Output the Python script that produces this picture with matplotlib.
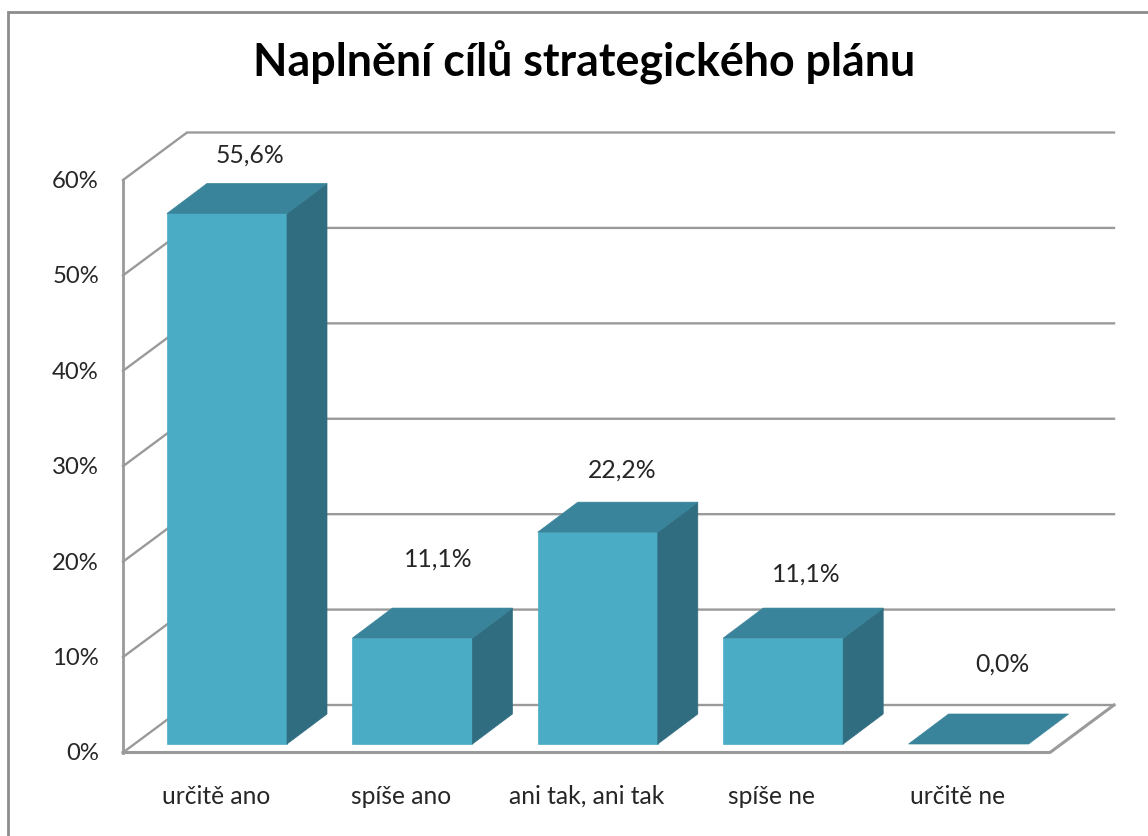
import numpy as np
import matplotlib
matplotlib.use('Agg')
import matplotlib.pyplot as plt

categories = ['určitě ano', 'spíše ano', 'ani tak, ani tak', 'spíše ne', 'určitě ne']
values = [55.6, 11.1, 22.2, 11.1, 0.0]
value_labels = ['55,6%', '11,1%', '22,2%', '11,1%', '0,0%']
yticks = [0, 10, 20, 30, 40, 50, 60]
ytick_labels = ['0%', '10%', '20%', '30%', '40%', '50%', '60%']
title = 'Naplnění cílů strategického plánu'

W, H = 1148, 836
plt.rcParams['font.family'] = ['Lato', 'DejaVu Sans']

# front plane of the chart in pixels
left, right, bottom, top = 123, 1050, 752.5, 180
PXX = (right - left) / len(categories)
PXY = (bottom - top) / 60.0
# depth of the floor and of a bar, in data units
floor_dx = 64 / PXX
floor_dy = 47.5 / PXY
bar_w = 120 / PXX
bar_dx = 40 / PXX
bar_dy = 30 / PXY
off_x = (167 - left - (PXX - 120) / 2) / PXX
off_y = 8.5 / PXY
# label shift from the front centre of the bar and from the back of its top, pixels
label_dx = [23, 26, 24, 23, 34]
label_dy = [28, 49, 32, 34, 50]

C_FRONT = '#4bacc6'
C_TOP = '#39849a'
C_SIDE = '#306d80'
C_GRID = '#9a9a9a'
C_TEXT = '#262626'

fig = plt.figure(figsize=(W / 100, H / 100), dpi=100)
ax = fig.add_axes([left / W, 1 - bottom / H, (right - left) / W, (bottom - top) / H])
ax.set_xlim(0, len(categories))
ax.set_ylim(0, 60)
ax.axis('off')

# outer frame of the chart, only left and top are in the picture
fig.add_artist(plt.Line2D([7.5 / W, 7.5 / W, 1], [0, 1 - 11.5 / H, 1 - 11.5 / H], transform=fig.transFigure,
                          color='#8c8c8c', lw=2.0, solid_joinstyle='miter'))

# walls and gridlines
for v in yticks:
    ax.plot([0, floor_dx, 5 + floor_dx], [v, v + floor_dy, v + floor_dy], color=C_GRID, lw=1.7,
            clip_on=False, zorder=1, solid_joinstyle='miter')
ax.plot([0, 0], [0, 60], color=C_GRID, lw=2.0, clip_on=False, zorder=1)
ax.plot([0, 5, 5 + floor_dx], [0, 0, floor_dy], color=C_GRID, lw=2.2, clip_on=False, zorder=1)

# bars
for i, v in enumerate(values):
    x0 = i + (1 - bar_w) / 2 + off_x
    x1 = x0 + bar_w
    y0 = off_y
    y1 = y0 + v
    if v > 0:
        ax.fill([x0, x1, x1, x0], [y0, y0, y1, y1], color=C_FRONT, lw=0.5, clip_on=False, zorder=3)
        ax.fill([x1, x1 + bar_dx, x1 + bar_dx, x1], [y0, y0 + bar_dy, y1 + bar_dy, y1], color=C_SIDE, lw=0.5,
                clip_on=False, zorder=3)
    ax.fill([x0, x1, x1 + bar_dx, x0 + bar_dx], [y1, y1, y1 + bar_dy, y1 + bar_dy], color=C_TOP, lw=0.5,
            clip_on=False, zorder=4)
    ax.text((x0 + x1) / 2 + label_dx[i] / PXX, y1 + bar_dy + label_dy[i] / PXY, value_labels[i], ha='center',
            va='center', fontsize=17.8, color=C_TEXT, zorder=5)
    ax.text(i + 0.5, -5.35, categories[i], ha='center', va='baseline', fontsize=17.7, color=C_TEXT)

for v, lab in zip(yticks, ytick_labels):
    ax.text(-0.13, v - 0.15, lab, ha='right', va='center', fontsize=17.2, color=C_TEXT)

fig.text(584 / W, 1 - 63 / H, title, ha='center', va='center', fontsize=32.2, fontweight='bold', color='black')

fig.savefig('out.png', dpi=100)
